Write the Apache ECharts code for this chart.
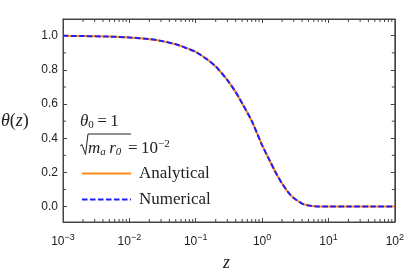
<!DOCTYPE html>
<html><head><meta charset="utf-8">
<script src="https://cdn.jsdelivr.net/npm/echarts@6/dist/echarts.min.js"></script>
<style>html,body{margin:0;padding:0;background:#fff}#c{width:407px;height:275px}</style>
</head><body><div id="c"></div>
<script>
// z values (log axis) and theta(z)
const zValues = [0.001, 0.002, 0.005, 0.01, 0.02, 0.03, 0.05, 0.07, 0.1, 0.15, 0.2, 0.3, 0.4, 0.5, 0.7, 1, 1.3, 1.6, 2, 2.5, 3, 4, 5, 7, 10, 20, 50, 100];
const analytical = [1.0, 0.998, 0.995, 0.99, 0.98, 0.97, 0.95, 0.93, 0.905, 0.86, 0.82, 0.74, 0.67, 0.605, 0.50, 0.36, 0.27, 0.20, 0.135, 0.082, 0.05, 0.018, 0.007, 0.001, 0, 0, 0, 0];
const numerical = [1.0, 0.998, 0.995, 0.99, 0.98, 0.97, 0.95, 0.93, 0.905, 0.86, 0.82, 0.74, 0.67, 0.605, 0.50, 0.36, 0.27, 0.20, 0.135, 0.082, 0.05, 0.018, 0.007, 0.001, 0, 0, 0, 0];
const seriesNames = ['Analytical', 'Numerical'];
// axis ranges and ticks
const xMin = 0.001, xMax = 100;
const yMin = -0.09, yMax = 1.098;
const yMajorTicks = [0, 0.2, 0.4, 0.6, 0.8, 1.0];
const yMinorTicks = [0.1, 0.3, 0.5, 0.7, 0.9];
const xMinorTicks = [];
[0.001, 0.01, 0.1, 1, 10].forEach(d => { for (let k = 2; k <= 9; k++) xMinorTicks.push(+(k * d).toPrecision(3)); });

const AX = '#444';
const TXT = '#222';
const chart = echarts.init(document.getElementById('c'), null, {renderer: 'canvas'});

function xLabel(v) {
  const e = Math.round(Math.log10(v));
  return '{b|10}{s|' + String(e).replace('-', '\u2212') + '}';
}

const tickStyle = {stroke: AX, lineWidth: 1};
const axisLine = {show: true, onZero: false, lineStyle: {color: AX, width: 1}};
const axisTick = {show: true, inside: true, length: 4, lineStyle: {color: AX}};

chart.setOption({
  animation: false,
  grid: {left: 63, right: 12, top: 19, bottom: 53, containLabel: false,
         show: true, borderColor: AX, borderWidth: 1, backgroundColor: 'transparent'},
  legend: {
    data: seriesNames, orient: 'vertical', left: 76, top: 160,
    itemWidth: 49, itemHeight: 14, itemGap: 9,
    itemStyle: {opacity: 0},
    textStyle: {fontFamily: 'Liberation Serif', fontSize: 17, color: TXT, padding: [0, 0, 0, 3]},
    selectedMode: false
  },
  xAxis: [{
    type: 'log', logBase: 10, min: xMin, max: xMax,
    axisLine, axisTick,
    axisLabel: {margin: 11, formatter: xLabel, color: TXT,
      rich: {b: {fontFamily: 'Liberation Sans', fontSize: 12, color: TXT},
             s: {fontFamily: 'Liberation Sans', fontSize: 9, color: TXT, padding: [0, 0, 8, 0]}}},
    splitLine: {show: false}, minorTick: {show: false}
  }, {
    type: 'log', logBase: 10, min: xMin, max: xMax, position: 'top',
    axisLine, axisTick,
    axisLabel: {show: false}, splitLine: {show: false}
  }],
  yAxis: [{
    type: 'value', min: yMin, max: yMax, splitNumber: 5,
    axisLine, axisTick,
    axisLabel: {margin: 5, color: TXT, fontFamily: 'Liberation Sans', fontSize: 12,
      formatter: v => yMajorTicks.some(t => Math.abs(t - v) < 1e-6) ? v.toFixed(1) : ''},
    splitLine: {show: false}
  }, {
    type: 'value', min: yMin, max: yMax, splitNumber: 5, position: 'right',
    axisLine, axisTick,
    axisLabel: {show: false}, splitLine: {show: false}
  }],
  series: [
    {name: seriesNames[0], type: 'line', smooth: 0.3, symbol: 'none', showSymbol: false,
     data: zValues.map((z, i) => [z, analytical[i]]),
     lineStyle: {color: '#FF8C1A', width: 2}, itemStyle: {color: '#FF8C1A'}, z: 3},
    {name: seriesNames[1], type: 'line', smooth: 0.3, symbol: 'none', showSymbol: false,
     data: zValues.map((z, i) => [z, numerical[i]]),
     lineStyle: {color: '#1E1EFF', width: 2, type: [5.5, 2.5]}, itemStyle: {color: '#1E1EFF'}, z: 4},
    {type: 'custom', silent: true, clip: false, z: 5,
     data: xMinorTicks.map(v => [v, 0]),
     renderItem(params, api) {
       const b = api.coord([api.value(0), yMin]);
       const t = api.coord([api.value(0), yMax]);
       return {type: 'group', children: [
         {type: 'line', shape: {x1: b[0], y1: b[1], x2: b[0], y2: b[1] - 3}, style: tickStyle},
         {type: 'line', shape: {x1: t[0], y1: t[1], x2: t[0], y2: t[1] + 3}, style: tickStyle}
       ]};
     }},
    {type: 'custom', silent: true, clip: false, z: 5,
     data: yMinorTicks.map(v => [xMin, v]),
     renderItem(params, api) {
       const l = api.coord([xMin, api.value(1)]);
       const r = api.coord([xMax, api.value(1)]);
       return {type: 'group', children: [
         {type: 'line', shape: {x1: l[0], y1: l[1], x2: l[0] + 3, y2: l[1]}, style: tickStyle},
         {type: 'line', shape: {x1: r[0], y1: r[1], x2: r[0] - 3, y2: r[1]}, style: tickStyle}
       ]};
     }}
  ],
  graphic: [
    {type: 'text', left: 1, top: 112, style: {
      text: '{i|θ}{n|(}{i|z}{n|)}',
      rich: {i: {fontFamily: 'Liberation Serif', fontStyle: 'italic', fontSize: 18, fill: TXT},
             n: {fontFamily: 'Liberation Serif', fontSize: 18, fill: TXT}}}},
    {type: 'text', left: 223, top: 254, style: {
      text: 'z', font: 'italic 18px "Liberation Serif"', fill: TXT}},
    {type: 'text', left: 80, top: 113, style: {
      text: '{i|θ}{sub|0}{n|\u2009=\u20091}',
      rich: {i: {fontFamily: 'Liberation Serif', fontStyle: 'italic', fontSize: 17, fill: TXT},
             sub: {fontFamily: 'Liberation Serif', fontSize: 11, fill: TXT, padding: [7, 0, 0, 0]},
             n: {fontFamily: 'Liberation Serif', fontSize: 17, fill: TXT}}}},
    {type: 'polyline', shape: {points: [[80, 146], [82, 144.5], [85.5, 154.5], [88, 134], [131, 134]]},
     style: {stroke: TXT, lineWidth: 1, fill: null}},
    {type: 'text', left: 88, top: 139, style: {
      text: '{i|m}{sub|a}{i|\u2009r}{sub|0}{n|\u2009\u2009=\u200910}{sup|\u22122}',
      rich: {i: {fontFamily: 'Liberation Serif', fontStyle: 'italic', fontSize: 17, fill: TXT},
             sub: {fontFamily: 'Liberation Serif', fontStyle: 'italic', fontSize: 11, fill: TXT, padding: [7, 0, 0, 0]},
             n: {fontFamily: 'Liberation Serif', fontSize: 17, fill: TXT},
             sup: {fontFamily: 'Liberation Serif', fontSize: 11, fill: TXT, padding: [0, 0, 9, 0]}}}}
  ]
});
</script></body></html>
